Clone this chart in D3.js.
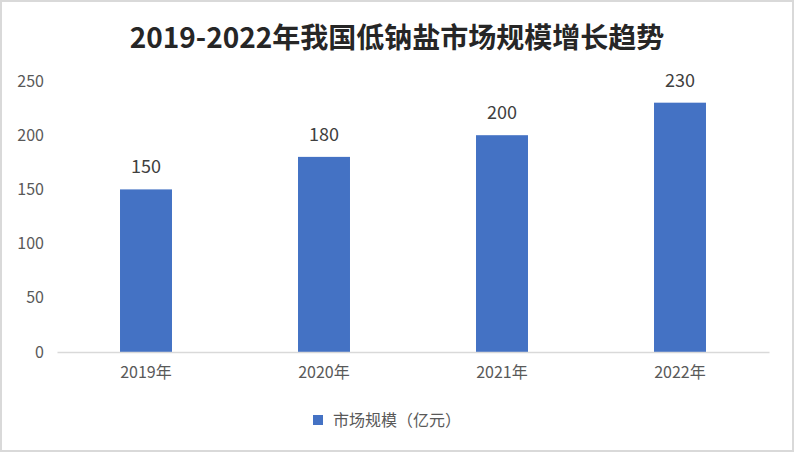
<!DOCTYPE html>
<html>
<head>
<meta charset="utf-8">
<script src="https://cdn.jsdelivr.net/npm/d3@7"></script>
<style>
  body { margin: 0; background: #fff; }
  svg { display: block; font-family: "Noto Sans CJK SC", "DejaVu Sans", sans-serif; }
</style>
</head>
<body>
<div id="chart"></div>
<script>
const years = ['2019年', '2020年', '2021年', '2022年'];
const sizes = [150, 180, 200, 230];
const yTicks = [0, 50, 100, 150, 200, 250];
const seriesName = '市场规模（亿元）';
const title = '2019-2022年我国低钠盐市场规模增长趋势';

const W = 794, H = 452;
const svg = d3.select('#chart').append('svg')
  .attr('width', W)
  .attr('height', H);

// outer frame
svg.append('rect')
  .attr('x', 1).attr('y', 1)
  .attr('width', W - 2).attr('height', H - 2)
  .attr('fill', '#fff')
  .attr('stroke', '#d9d9d9')
  .attr('stroke-width', 2);

svg.append('text')
  .attr('x', 397).attr('y', 48)
  .attr('text-anchor', 'middle')
  .style('font-size', '28px')
  .style('font-weight', 'bold')
  .attr('fill', '#262626')
  .text(title);

const x = d3.scaleBand().domain(years).range([57, 769]).paddingInner(0.708).paddingOuter(0.354);
const y = d3.scaleLinear().domain([0, 250]).range([352, 81]);

// y tick labels (no axis line)
svg.append('g').selectAll('text')
  .data(yTicks)
  .join('text')
  .attr('x', 44)
  .attr('y', d => y(d))
  .attr('dy', '0.35em')
  .attr('text-anchor', 'end')
  .style('font-size', '16px')
  .attr('fill', '#595959')
  .text(d => d);

svg.append('g').selectAll('rect')
  .data(years)
  .join('rect')
  .attr('x', d => x(d))
  .attr('y', (d, i) => y(sizes[i]))
  .attr('width', x.bandwidth())
  .attr('height', (d, i) => y(0) - y(sizes[i]))
  .attr('fill', '#4472c4');

svg.append('g').selectAll('text')
  .data(years)
  .join('text')
  .attr('x', d => x(d) + x.bandwidth() / 2)
  .attr('y', (d, i) => y(sizes[i]) - 16)
  .attr('text-anchor', 'middle')
  .style('font-size', '18px')
  .attr('fill', '#404040')
  .text((d, i) => sizes[i]);

// x axis
const xAxis = svg.append('g')
  .attr('transform', `translate(0,${y(0)})`)
  .call(d3.axisBottom(x).tickSize(0).tickPadding(15));
xAxis.select('.domain').attr('stroke', '#d9d9d9').attr('stroke-width', 1.5);
xAxis.selectAll('text')
  .style('font-size', '16px')
  .style('font-family', '"Noto Sans CJK SC", sans-serif')
  .attr('fill', '#595959');

// legend
const lg = svg.append('g').attr('transform', 'translate(313,420)');
lg.append('rect')
  .attr('x', 0).attr('y', -5)
  .attr('width', 10).attr('height', 10)
  .attr('fill', '#4472c4');
lg.append('text')
  .attr('x', 20).attr('y', 0)
  .attr('dy', '0.35em')
  .style('font-size', '16px')
  .attr('fill', '#595959')
  .text(seriesName);
</script>
</body>
</html>
